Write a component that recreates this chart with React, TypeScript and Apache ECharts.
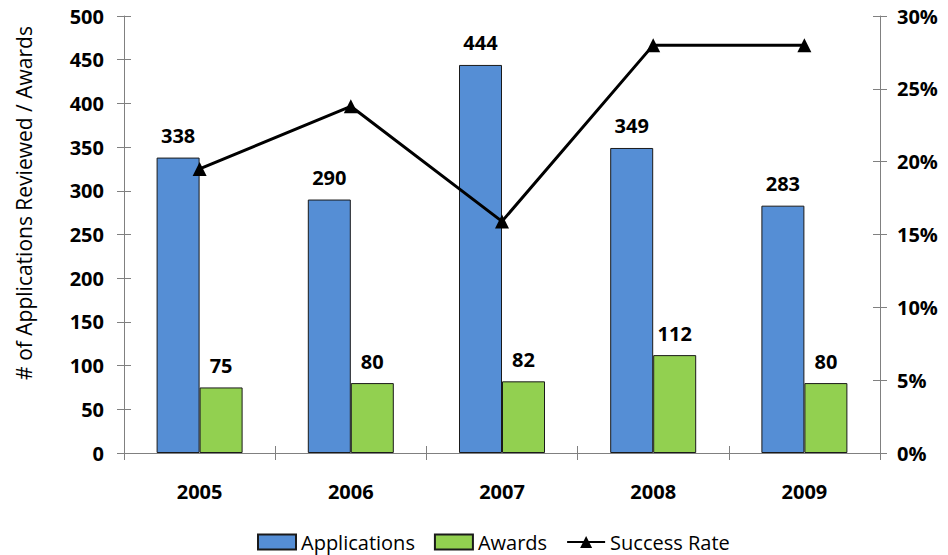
import React, { useEffect, useRef } from "react";
import * as echarts from "echarts";

const years = ["2005", "2006", "2007", "2008", "2009"];
const applications = [338, 290, 444, 349, 283];
const awards = [75, 80, 82, 112, 80];
const successRate = [19.5, 23.8, 15.9, 28.0, 28.0];
const yTitle = "# of Applications Reviewed / Awards";

const FONT = "'Open Sans', 'Noto Sans', sans-serif";
const AXIS_COLOR = "#808080";
const LABEL_SIZE = 20;

export default function App() {
  const ref = useRef<HTMLDivElement>(null);

  useEffect(() => {
    if (!ref.current) return;
    const chart = echarts.init(ref.current, null, { renderer: "svg" });

    const tickStyle = { color: AXIS_COLOR, width: 1 };
    const boldLabel = {
      fontFamily: FONT,
      fontSize: LABEL_SIZE,
      fontWeight: "bold",
      color: "#000",
    };

    chart.setOption({
      animation: false,
      backgroundColor: "#ffffff",
      textStyle: { fontFamily: FONT },
      grid: { left: 124, right: 68, top: 16, bottom: 102 },
      graphic: [
        {
          type: "text",
          x: 24,
          y: 203,
          rotation: Math.PI / 2,
          style: {
            text: yTitle,
            fontFamily: FONT,
            fontSize: 21,
            fill: "#000",
            align: "center",
            verticalAlign: "middle",
          },
        },
      ],
      legend: {
        left: 252,
        top: 527,
        itemWidth: 38,
        itemHeight: 15,
        itemGap: 19,
        textStyle: { fontFamily: FONT, fontSize: LABEL_SIZE, color: "#000" },
        data: [
          { name: "Applications", icon: "rect" },
          { name: "Awards", icon: "rect" },
          { name: "Success Rate" },
        ],
      },
      xAxis: [
        {
          type: "category",
          data: years,
          position: "bottom",
          axisLine: { show: true, lineStyle: { color: AXIS_COLOR } },
          axisTick: { show: true, length: 7, lineStyle: tickStyle },
          axisLabel: { margin: 28, ...boldLabel },
        },
        {
          type: "category",
          data: years,
          position: "bottom",
          axisLine: { show: false },
          axisTick: { show: true, inside: true, length: 7, lineStyle: tickStyle },
          axisLabel: { show: false },
        },
      ],
      yAxis: [
        {
          type: "value",
          position: "left",
          min: 0,
          max: 500,
          interval: 50,
          splitLine: { show: false },
          axisLine: { show: true, lineStyle: { color: AXIS_COLOR } },
          axisTick: { show: true, length: 7, lineStyle: tickStyle },
          axisLabel: { margin: 20, ...boldLabel },
        },
        {
          type: "value",
          position: "right",
          min: 0,
          max: 30,
          interval: 5,
          splitLine: { show: false },
          axisLine: { show: true, lineStyle: { color: AXIS_COLOR } },
          axisTick: { show: true, length: 7, lineStyle: tickStyle },
          axisLabel: { margin: 17, ...boldLabel, formatter: "{value}%" },
        },
        {
          type: "value",
          position: "left",
          min: 0,
          max: 500,
          interval: 50,
          splitLine: { show: false },
          axisLine: { show: false },
          axisTick: { show: true, inside: true, length: 7, lineStyle: tickStyle },
          axisLabel: { show: false },
        },
        {
          type: "value",
          position: "right",
          min: 0,
          max: 30,
          interval: 5,
          splitLine: { show: false },
          axisLine: { show: false },
          axisTick: { show: true, inside: true, length: 7, lineStyle: tickStyle },
          axisLabel: { show: false },
        },
      ],
      series: [
        {
          name: "Applications",
          type: "bar",
          data: applications,
          barWidth: 43,
          barGap: "0%",
          itemStyle: { color: "#558ED5", borderColor: "#1a1a1a", borderWidth: 1 },
          label: { show: true, position: "top", distance: 12, ...boldLabel },
        },
        {
          name: "Awards",
          type: "bar",
          data: awards,
          barWidth: 43,
          barGap: "0%",
          itemStyle: { color: "#92D050", borderColor: "#1a1a1a", borderWidth: 1 },
          label: { show: true, position: "top", distance: 12, ...boldLabel },
        },
        {
          name: "Success Rate",
          type: "line",
          yAxisIndex: 1,
          data: successRate,
          symbol: "triangle",
          symbolSize: 14,
          lineStyle: { color: "#000", width: 3 },
          itemStyle: { color: "#000" },
          z: 5,
        },
      ],
    });

    return () => chart.dispose();
  }, []);

  return (
    <div
      ref={ref}
      style={{ position: "fixed", left: 0, top: 0, width: 948, height: 555 }}
    />
  );
}
